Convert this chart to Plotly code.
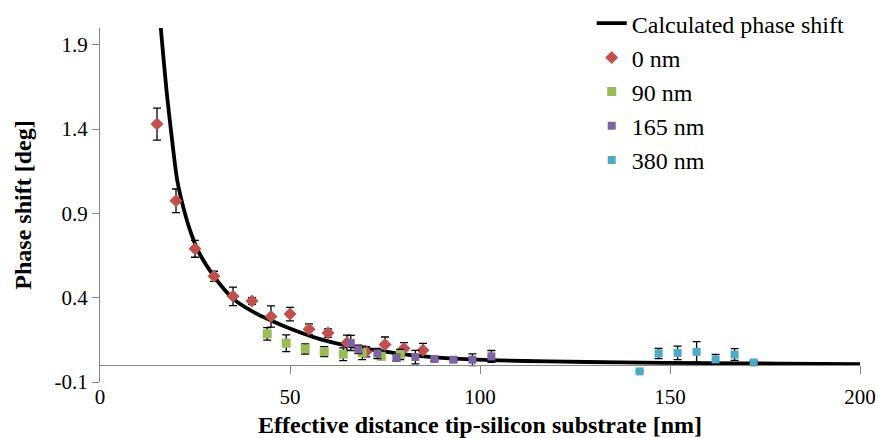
import plotly.graph_objects as go

# Calculated curve
curve_x = [15.6, 16.0, 17.5, 19, 20.3, 22, 23.7, 26, 30, 35, 40, 44.7, 49.8, 57.9, 61.4, 66.7,
           72, 79, 86, 92, 105, 118, 137, 160, 179, 200]
curve_y = [2.10, 2.00, 1.63, 1.33, 1.10, 0.93, 0.80, 0.67, 0.527, 0.395, 0.32, 0.268, 0.219,
           0.154, 0.134, 0.11, 0.09, 0.067, 0.05, 0.04, 0.028, 0.022, 0.016, 0.012, 0.009, 0.006]

# 0 nm
x0 = [15, 20, 25, 30, 35, 40, 45, 50, 55, 60, 65, 70, 75, 80, 85]
y0 = [1.43, 0.975, 0.69, 0.527, 0.408, 0.38, 0.288, 0.303, 0.213, 0.19, 0.133, 0.079, 0.122, 0.098, 0.089]
e0 = [0.095, 0.07, 0.05, 0.03, 0.055, 0.02, 0.063, 0.04, 0.032, 0.025, 0.045, 0.03, 0.045, 0.035, 0.04]

# 90 nm
x90 = [44, 49, 54, 59, 64, 69, 74, 79]
y90 = [0.186, 0.13, 0.096, 0.08, 0.065, 0.073, 0.053, 0.063]
e90 = [0.037, 0.05, 0.03, 0.03, 0.038, 0.04, 0.02, 0.03]

# 165 nm
x165 = [66, 68, 73, 78, 83, 88, 93, 98, 103]
y165 = [0.132, 0.093, 0.069, 0.043, 0.048, 0.036, 0.032, 0.032, 0.052]
e165 = [0.045, 0.025, 0.03, 0.02, 0.04, 0.01, 0.01, 0.035, 0.035]

# 380 nm
x380 = [142, 147, 152, 157, 162, 167, 172]
y380 = [-0.037, 0.069, 0.073, 0.079, 0.034, 0.063, 0.016]
e380 = [0.0, 0.03, 0.04, 0.06, 0.03, 0.035, 0.01]

y_ticks = [-0.1, 0.4, 0.9, 1.4, 1.9]
x_ticks = [0, 50, 100, 150, 200]

FONT = "'Liberation Serif', 'Times New Roman', Times, serif"
AXIS_COLOR = "#868686"

fig = go.Figure()

fig.add_trace(go.Scatter(x=curve_x, y=curve_y, mode="lines", name="Calculated phase shift",
                         line=dict(color="black", width=3.8, shape="spline", smoothing=0.8),
                         legendgroup="a", cliponaxis=True))

def add_series(x, y, e, name, color, symbol, size, grp):
    fig.add_trace(go.Scatter(
        x=x, y=y, mode="markers", name=name, legendgroup=grp,
        marker=dict(color=color, symbol=symbol, size=size, line=dict(width=0)),
        error_y=dict(type="data", array=e, visible=True, color="black", thickness=1.3, width=4),
        cliponaxis=False))

add_series(x0, y0, e0, "0 nm", "#C0504D", "diamond", 10, "b")
add_series(x90, y90, e90, "90 nm", "#9BBB59", "square", 9, "c")
add_series(x165, y165, e165, "165 nm", "#8064A2", "square", 8, "d")
add_series(x380, y380, e380, "380 nm", "#4BACC6", "square", 8, "e")

# dummy trace for the secondary x axis (axis line at y=0)
fig.add_trace(go.Scatter(x=[None], y=[None], xaxis="x2", showlegend=False, hoverinfo="skip"))

ymin, ymax = -0.1, 2.0

fig.update_layout(
    width=878, height=438,
    margin=dict(l=100, r=18, t=28, b=56, autoexpand=False),
    paper_bgcolor="white", plot_bgcolor="white",
    font=dict(family=FONT, size=21, color="black"),
    showlegend=True,
    legend=dict(x=0.647, y=1.076, xanchor="left", yanchor="top",
                bgcolor="rgba(255,255,255,0)", font=dict(size=24, family=FONT),
                tracegroupgap=0, itemsizing="trace"),
    xaxis=dict(range=[0, 200], tickvals=x_ticks, ticks="", showline=False, showgrid=False,
               zeroline=False, tickfont=dict(size=21, family=FONT), automargin=False,
               title=dict(text="<b>Effective distance tip-silicon substrate [nm]</b>",
                          font=dict(size=24, family=FONT), standoff=14)),
    xaxis2=dict(range=[0, 200], overlaying="x", anchor="free",
                position=(0 - ymin) / (ymax - ymin), automargin=False,
                tickvals=[50, 100, 150, 200], ticks="outside", ticklen=8, tickcolor=AXIS_COLOR,
                showticklabels=False, showline=True, linecolor=AXIS_COLOR, linewidth=1,
                showgrid=False, zeroline=False),
    yaxis=dict(range=[ymin, ymax], tickvals=y_ticks, ticktext=["-0.1", "0.4", "0.9", "1.4", "1.9"],
               ticks="outside", ticklen=7, tickcolor=AXIS_COLOR, showline=True,
               linecolor=AXIS_COLOR, linewidth=1, showgrid=False, zeroline=False,
               tickfont=dict(size=21, family=FONT), automargin=False,
               title=dict(text="<b>Phase shift [deg]</b>", font=dict(size=24, family=FONT),
                          standoff=16)),
)

fig.write_html("out.html")
